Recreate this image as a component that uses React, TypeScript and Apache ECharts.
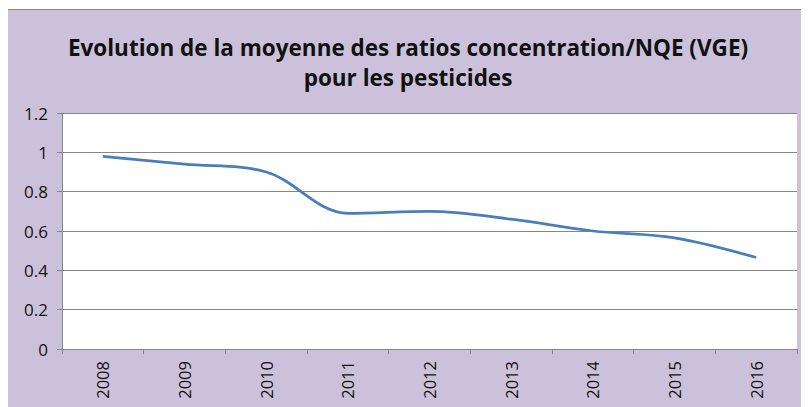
import React, { useEffect, useRef } from "react";
import * as echarts from "echarts";

const titleLines = [
  "Evolution de la moyenne des ratios concentration/NQE (VGE)",
  "pour les pesticides",
];
const years = ["2008", "2009", "2010", "2011", "2012", "2013", "2014", "2015", "2016"];
const ratios = [0.98, 0.94, 0.9, 0.69, 0.7, 0.66, 0.6, 0.565, 0.465];
const yTicks = { min: 0, max: 1.2, interval: 0.2 };

export default function App() {
  const ref = useRef<HTMLDivElement>(null);
  useEffect(() => {
    if (!ref.current) return;
    const chart = echarts.init(ref.current, null, { renderer: "svg" });
    chart.setOption({
      animation: false,
      backgroundColor: "#ccc1da",
      title: {
        text: titleLines.join("\n"),
        left: "center",
        top: 17,
        textStyle: {
          fontFamily: "Open Sans",
          fontWeight: "bold",
          fontSize: 22.5,
          lineHeight: 30,
          color: "#111",
        },
      },
      grid: {
        left: 54,
        right: 11,
        top: 103,
        bottom: 58,
        show: true,
        backgroundColor: "#ffffff",
        borderWidth: 0,
      },
      xAxis: {
        type: "category",
        data: years,
        boundaryGap: true,
        axisLine: { lineStyle: { color: "#868686", width: 1 } },
        axisTick: { show: true, length: 5, inside: false, lineStyle: { color: "#868686" } },
        axisLabel: {
          rotate: 90,
          margin: 12,
          fontFamily: "Open Sans",
          fontSize: 16.5,
          color: "#111",
        },
      },
      yAxis: {
        type: "value",
        min: yTicks.min,
        max: yTicks.max,
        interval: yTicks.interval,
        axisLine: { show: true, lineStyle: { color: "#868686", width: 1 } },
        axisTick: { show: true, length: 5, lineStyle: { color: "#868686" } },
        splitLine: { show: true, lineStyle: { color: "#868686", width: 1 } },
        axisLabel: {
          margin: 14,
          fontFamily: "Open Sans",
          fontSize: 17,
          color: "#111",
          formatter: (v: number) => String(Math.round(v * 10) / 10),
        },
      },
      series: [
        {
          type: "line",
          data: ratios,
          smooth: 0.35,
          showSymbol: false,
          lineStyle: { color: "#4a7ebb", width: 2.75 },
        },
      ],
    });
    return () => chart.dispose();
  }, []);
  return (
    <div
      style={{
        marginLeft: -1,
        marginTop: 1,
        width: 801,
        height: 398,
        borderTop: "1px solid #8c8c8c",
        borderLeft: "1px solid #8c8c8c",
        background: "#ccc1da",
      }}
    >
      <div ref={ref} style={{ width: 800, height: 397 }} />
    </div>
  );
}
